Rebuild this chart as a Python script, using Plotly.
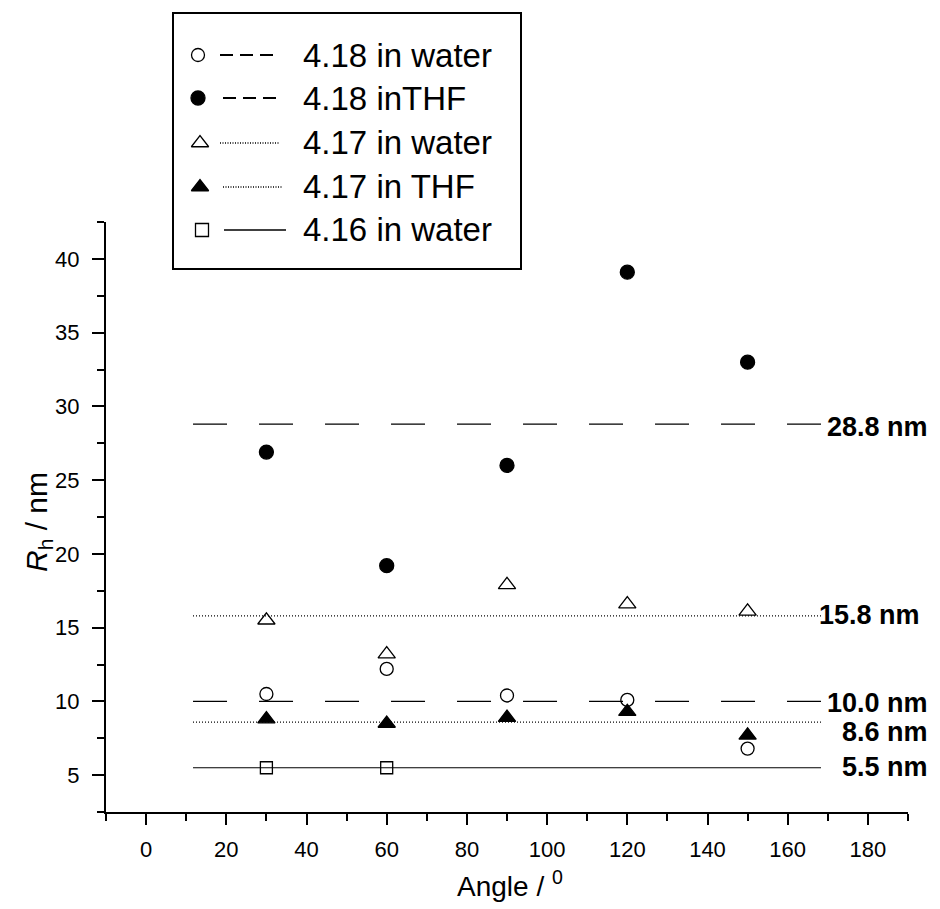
import plotly.graph_objects as go

# ---------------- data ----------------
angles = [30, 60, 90, 120, 150]
r_418_water = [10.5, 12.2, 10.4, 10.1, 6.8]
r_418_thf = [26.9, 19.2, 26.0, 39.1, 33.0]
r_417_water = [15.5, 13.2, 17.9, 16.6, 16.1]
r_417_thf = [8.8, 8.5, 8.9, 9.3, 7.7]
angles_416 = [30, 60]
r_416_water = [5.5, 5.5]

series_names = ["4.18 in water", "4.18 inTHF", "4.17 in water", "4.17 in THF", "4.16 in water"]

ref_values = [28.8, 15.8, 10.0, 8.6, 5.5]
ref_labels = ["28.8 nm", "15.8 nm", "10.0 nm", "8.6 nm", "5.5 nm"]
ref_x_range = [11.7, 168.3]

# page has an 8px body margin: figure is placed at (8, 8)
OFF = 8
W, H = 940 - OFF, 909 - OFF
PL, PR, PT, PB = 106, 908, 222, 812  # plot area in page pixels


def px(x):
    return (x - OFF) / W


def py(y):
    return 1 - (y - OFF) / H


FONT = "Arial, Liberation Sans, Helvetica, sans-serif"
fig = go.Figure()

# reference lines
ref_styles = [
    dict(dash="34px,32px", width=1.2),
    dict(dash="1px,2px", width=1.2),
    dict(dash="34px,32px", width=1.2),
    dict(dash="1px,2px", width=1.2),
    dict(dash="solid", width=1.2),
]
for v, st in zip(ref_values, ref_styles):
    fig.add_trace(go.Scatter(x=ref_x_range, y=[v, v], mode="lines",
                             line=dict(color="black", **st), showlegend=False,
                             hoverinfo="skip"))

mk_line = dict(color="black", width=1.3)
series = [
    (angles, r_418_water, "circle-open", 13),
    (angles, r_418_thf, "circle", 14),
    (angles, r_417_water, "triangle-up-open", 15),
    (angles, r_417_thf, "triangle-up", 15),
    (angles_416, r_416_water, "square-open", 12),
]
for (xs, ys, sym, sz), name in zip(series, series_names):
    fig.add_trace(go.Scatter(x=xs, y=ys, mode="markers", name=name,
                             marker=dict(symbol=sym, size=sz, color="black",
                                         line=mk_line),
                             showlegend=False))

# ---------------- custom legend (second, hidden subplot in page-pixel space) ----------------
leg_rows_y = [55, 98, 143, 187, 230]
leg_marker_x = [198, 198, 200, 200, 202]
leg_line_x = [(220, 277), (223, 282), (220, 280), (223, 283), (224, 286)]
leg_dash = ["13px,7px", "13px,7px", "1px,1.5px", "1px,1.5px", "solid"]
leg_sizes = [13, 14, 15, 15, 13]
leg_syms = [s[2] for s in series]
for i in range(5):
    fig.add_trace(go.Scatter(x=[leg_marker_x[i]], y=[leg_rows_y[i]], mode="markers",
                             xaxis="x2", yaxis="y2",
                             marker=dict(symbol=leg_syms[i], size=leg_sizes[i],
                                         color="black", line=mk_line),
                             showlegend=False, hoverinfo="skip"))
    x0, x1 = leg_line_x[i]
    fig.add_trace(go.Scatter(x=[x0, x1], y=[leg_rows_y[i]] * 2, mode="lines",
                             xaxis="x2", yaxis="y2",
                             line=dict(color="black", width=2 if i < 2 else 1.5,
                                       dash=leg_dash[i]),
                             showlegend=False, hoverinfo="skip"))

annotations = []
for i, name in enumerate(series_names):
    annotations.append(dict(x=px(301), y=py(leg_rows_y[i]), xref="paper", yref="paper",
                            text=name, showarrow=False, xanchor="left", yanchor="middle",
                            font=dict(family=FONT, size=33, color="black")))

# reference labels (right-aligned)
lab_right = [930, 922, 930, 930, 930]
lab_y = [427, 615, 703, 732, 767]
for t, xr, yl in zip(ref_labels, lab_right, lab_y):
    annotations.append(dict(x=px(xr), y=py(yl), xref="paper", yref="paper",
                            text="<b>" + t + "</b>", showarrow=False,
                            xanchor="right", yanchor="middle",
                            font=dict(family=FONT, size=27, color="black")))

# axis titles
annotations.append(dict(x=px(510), y=py(884), xref="paper", yref="paper",
                        text="Angle / <sup>0</sup>", showarrow=False,
                        xanchor="center", yanchor="middle",
                        font=dict(family=FONT, size=28, color="black")))
annotations.append(dict(x=px(38), y=py(522), xref="paper", yref="paper",
                        text="<i>R</i><sub>h</sub> / nm", showarrow=False, textangle=-90,
                        xanchor="center", yanchor="middle",
                        font=dict(family=FONT, size=30, color="black")))

shapes = [dict(type="rect", xref="paper", yref="paper",
               x0=px(173), x1=px(521), y0=py(269), y1=py(13),
               line=dict(color="black", width=2), layer="below")]

fig.update_layout(
    width=W, height=H,
    margin=dict(l=0, r=0, t=0, b=0, autoexpand=False),
    paper_bgcolor="white", plot_bgcolor="rgba(0,0,0,0)",
    showlegend=False,
    annotations=annotations, shapes=shapes,
    xaxis=dict(domain=[px(PL), px(PR)], range=[-10, 190], tick0=0, dtick=20,
               showgrid=False, zeroline=False, showline=True, linecolor="black",
               linewidth=2, ticks="outside", ticklen=11, tickwidth=2, tickcolor="black",
               tickfont=dict(family=FONT, size=22, color="black"),
               ticklabelstandoff=6,
               minor=dict(dtick=10, tick0=0, ticks="outside", ticklen=7, tickwidth=2,
                          tickcolor="black", showgrid=False),
               anchor="y", fixedrange=True),
    yaxis=dict(domain=[py(PB), py(PT)], range=[2.5, 42.5], tick0=0, dtick=5,
               showgrid=False, zeroline=False, showline=True, linecolor="black",
               linewidth=2, ticks="outside", ticklen=12, tickwidth=2, tickcolor="black",
               tickfont=dict(family=FONT, size=22, color="black"),
               ticklabelstandoff=8,
               minor=dict(dtick=2.5, tick0=0, ticks="outside", ticklen=7, tickwidth=2,
                          tickcolor="black", showgrid=False),
               anchor="x", fixedrange=True),
    xaxis2=dict(domain=[0, 1], range=[OFF, 940], visible=False, anchor="y2",
                fixedrange=True),
    yaxis2=dict(domain=[0, 1], range=[909, OFF], visible=False, anchor="x2",
                fixedrange=True),
)

fig.write_html("out.html")
